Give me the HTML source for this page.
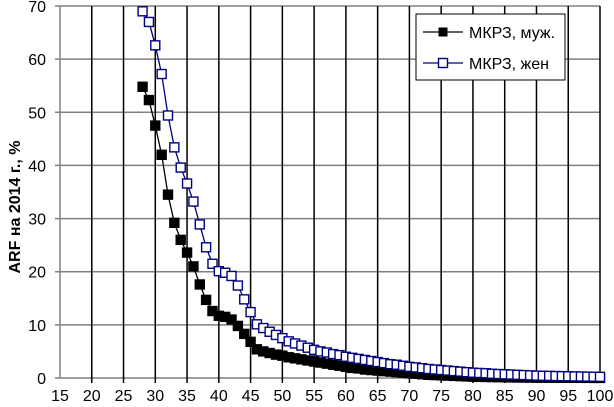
<!DOCTYPE html>
<html><head><meta charset="utf-8"><style>
body{margin:0;background:#fff;}
svg{display:block;font-family:"Liberation Sans",sans-serif;}
</style></head><body>
<svg id="chart" width="614" height="407" viewBox="0 0 614 407"></svg>
<script>
const ages=[28,29,30,31,32,33,34,35,36,37,38,39,40,41,42,43,44,45,46,47,48,49,50,51,52,53,54,55,56,57,58,59,60,61,62,63,64,65,66,67,68,69,70,71,72,73,74,75,76,77,78,79,80,81,82,83,84,85,86,87,88,89,90,91,92,93,94,95,96,97,98,99,100];
const maleVals=[54.8,52.3,47.5,42,34.5,29.2,26,23.6,21,17.6,14.7,12.6,11.7,11.5,11,9.8,8.3,6.8,5.4,5.0,4.7,4.4,4.2,3.9,3.7,3.5,3.3,3.1,2.9,2.7,2.5,2.3,2.1,1.9,1.8,1.6,1.5,1.4,1.3,1.2,1.1,1.0,0.9,0.8,0.7,0.6,0.55,0.5,0.45,0.4,0.35,0.3,0.25,0.22,0.2,0.18,0.16,0.14,0.12,0.1,0.1,0.08,0.08,0.06,0.06,0.05,0.05,0.04,0.04,0.03,0.03,0.02,0.02];
const femaleVals=[69,67,62.6,57.2,49.4,43.4,39.6,36.6,33.2,28.9,24.6,21.5,20.1,19.8,19.2,17.4,14.8,12.4,10.1,9.4,8.7,8.1,7.5,6.9,6.5,6.1,5.7,5.3,5.0,4.8,4.5,4.3,4.0,3.8,3.6,3.4,3.2,3.0,2.8,2.6,2.5,2.3,2.1,2.0,1.85,1.7,1.6,1.5,1.4,1.3,1.2,1.1,1.0,0.95,0.9,0.8,0.75,0.7,0.65,0.6,0.55,0.5,0.45,0.42,0.4,0.37,0.35,0.33,0.3,0.28,0.26,0.24,0.22];
const xTicks=[15,20,25,30,35,40,45,50,55,60,65,70,75,80,85,90,95,100];
const yTicks=[0,10,20,30,40,50,60,70];
const NS="http://www.w3.org/2000/svg";
const svg=document.getElementById('chart');
const X0=60,X1=600,Y0=378,Y1=6;
function xs(v){return X0+(v-15)/(100-15)*(X1-X0);}
function ys(v){return Y0-(v/70)*(Y0-Y1);}
function mk(t,a,p){const e=document.createElementNS(NS,t);for(const k in a)e.setAttribute(k,a[k]);(p||svg).appendChild(e);return e;}
const grid=mk('g',{});


yTicks.forEach(v=>{const l=mk('line',{x1:X0-5,x2:X1,y1:ys(v),y2:ys(v),stroke:'#808080','stroke-width':1.5},grid);


const t=mk('text',{x:X0-14,y:ys(v)+6,'text-anchor':'end','font-size':16,fill:'#000'});t.textContent=v;

});
xTicks.forEach(v=>{if(v>15){const l=mk('line',{x1:xs(v),x2:xs(v),y1:Y1,y2:Y0+5,stroke:'#000','stroke-width':1.5},grid);

}
const t=mk('text',{x:xs(v),y:Y0+23,'text-anchor':'middle','font-size':16,fill:'#000'});t.textContent=v;

});
const ax=mk('line',{x1:X0,x2:X0,y1:Y1,y2:Y0,stroke:'#808080','stroke-width':1.5});


const yt=mk('text',{x:0,y:0,transform:`translate(20,${(Y0+Y1)/2+15}) rotate(-90)`,'text-anchor':'middle','font-size':16,'font-weight':'bold',fill:'#000'});
yt.textContent='ARF на 2014 г., %';


function series(vals,color,fill,name){
const g=mk('g',{});


mk('polyline',{points:ages.map((a,i)=>xs(a)+','+ys(vals[i])).join(' '),fill:'none',stroke:color,'stroke-width':1.3},g);
ages.forEach((a,i)=>{const r=mk('rect',{x:xs(a)-4.5,y:ys(vals[i])-4.5,width:9,height:9,fill:fill,stroke:color,'stroke-width':1.4},g);

});}
series(maleVals,'#000','#000','series-male');
series(femaleVals,'#000080','#fff','series-female');
const lg=mk('g',{});


mk('rect',{x:416,y:14,width:149,height:66,fill:'#fff',stroke:'#000','stroke-width':1},lg);
mk('line',{x1:423,x2:463,y1:32,y2:32,stroke:'#000','stroke-width':1.3},lg);
mk('rect',{x:438.5,y:27.5,width:9,height:9,fill:'#000'},lg);
const t1=mk('text',{x:469,y:38,'font-size':16,fill:'#000'},lg);t1.textContent='МКРЗ, муж.';


mk('line',{x1:423,x2:463,y1:63,y2:63,stroke:'#000080','stroke-width':1.3},lg);
mk('rect',{x:438.5,y:58.5,width:9,height:9,fill:'#fff',stroke:'#000080','stroke-width':1.4},lg);
const t2=mk('text',{x:469,y:69,'font-size':16,fill:'#000'},lg);t2.textContent='МКРЗ, жен';


</script>
</body></html>
